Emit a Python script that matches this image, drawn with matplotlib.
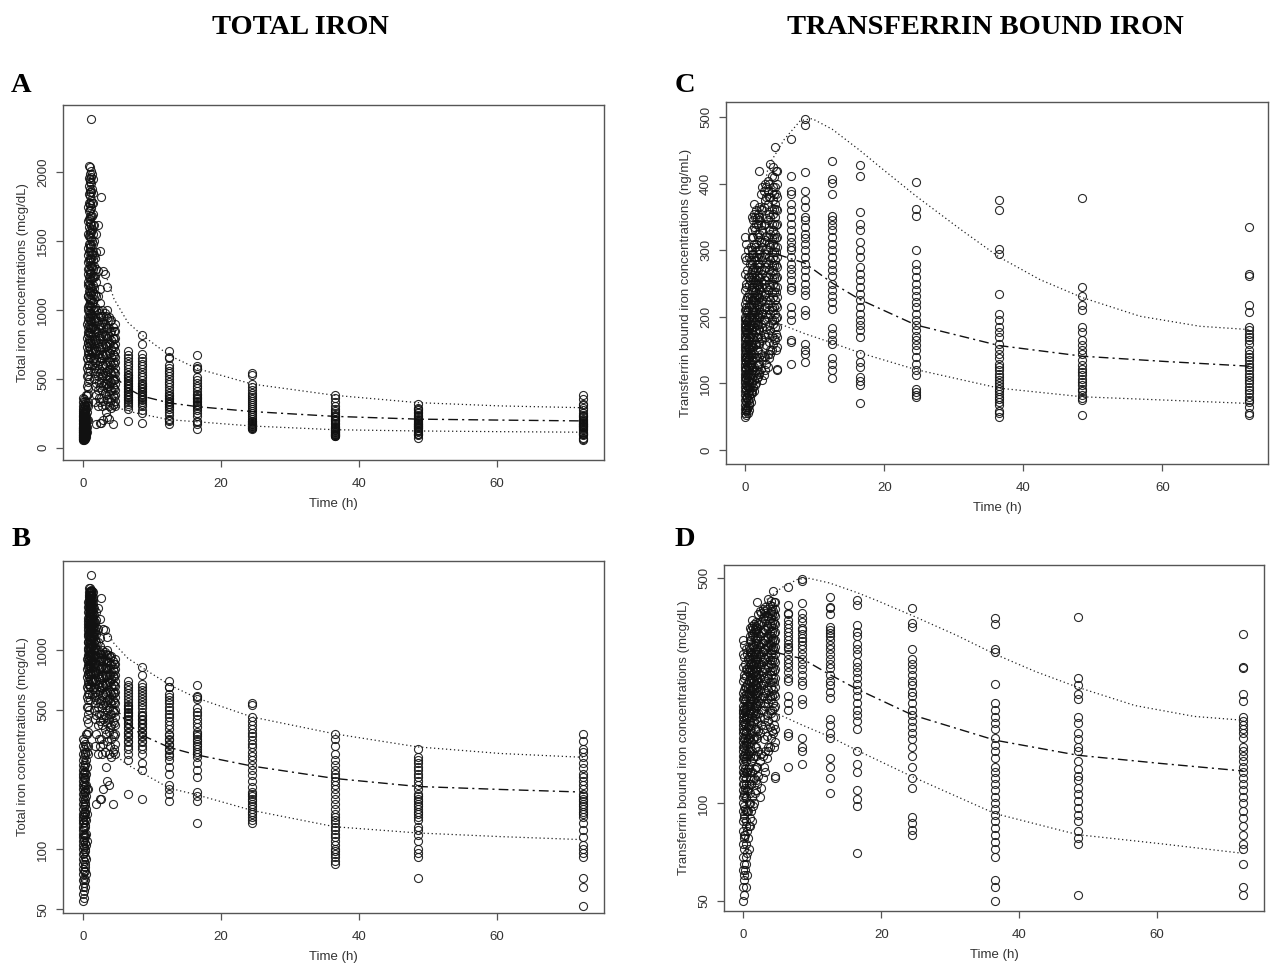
import numpy as np
import matplotlib
matplotlib.use("Agg")
from matplotlib import pyplot as plt
from matplotlib.ticker import NullLocator, FixedLocator, FixedFormatter

# ---- total iron (mcg/dL), observed ----
ti_early_t = [0.0, 0.15, 0.3, 0.45, 0.6, 0.75, 0.9, 1.05, 1.2, 1.4, 1.6, 1.85,
              2.1, 2.4, 2.6, 2.9, 3.2, 3.5, 3.8, 4.1, 4.4, 4.6]
ti_early_v = [
    [55, 60, 65, 70, 75, 80, 85, 90, 95, 100, 105, 110, 115, 120, 125, 130, 135, 140, 145, 150,
     160, 170, 180, 190, 200, 210, 220, 230, 240, 250, 265, 280, 300, 330, 360],
    [57, 62, 68, 72, 78, 88, 96, 103, 112, 118, 128, 138, 148, 155, 165, 175, 185, 195, 205, 215,
     228, 245, 260, 290, 320, 350],
    [70, 78, 85, 92, 100, 108, 118, 130, 142, 155, 168, 180, 195, 210, 225, 245, 270, 300, 340],
    [75, 90, 105, 120, 140, 160, 185, 210, 240, 280, 330, 380],
    [110, 150, 200, 260, 310, 380, 450, 520, 580, 650, 730, 800, 900],
    [300, 390, 480, 560, 640, 700, 760, 820, 880, 950, 1020, 1100, 1180, 1260, 1350, 1450, 1550,
     1650, 1750],
    [500, 600, 680, 740, 790, 840, 890, 940, 990, 1040, 1090, 1140, 1190, 1240, 1300, 1360, 1420,
     1480, 1540, 1600, 1660, 1720, 1780, 1840, 1900, 1960, 2050],
    [650, 720, 780, 830, 880, 930, 980, 1030, 1080, 1130, 1180, 1230, 1280, 1330, 1380, 1430,
     1480, 1530, 1580, 1630, 1680, 1730, 1780, 1830, 1880, 1930, 1990, 2040],
    [700, 760, 820, 870, 920, 970, 1020, 1070, 1120, 1170, 1220, 1270, 1320, 1370, 1420, 1470,
     1520, 1570, 1620, 1680, 1740, 1800, 1860, 1920, 1970, 2010, 2390],
    [640, 700, 760, 820, 880, 940, 1000, 1060, 1120, 1180, 1240, 1300, 1360, 1420, 1480, 1550,
     1620, 1700, 1780, 1850, 1950],
    [500, 580, 650, 720, 790, 860, 930, 1000, 1080, 1160, 1240, 1320, 1400, 1500, 1620],
    [170, 380, 470, 560, 640, 710, 780, 850, 920, 1000, 1100, 1200, 1300, 1420, 1550],
    [300, 420, 520, 600, 680, 760, 840, 920, 1000, 1100, 1280, 1620],
    [180, 330, 440, 540, 630, 720, 800, 880, 960, 1050, 1150, 1430],
    [180, 360, 470, 560, 650, 730, 810, 890, 960, 1820],
    [200, 340, 450, 530, 600, 670, 740, 810, 880, 960, 1280],
    [310, 400, 470, 540, 610, 680, 750, 820, 900, 980, 1260],
    [220, 350, 430, 500, 560, 620, 680, 740, 800, 870, 940, 1000, 1170],
    [210, 300, 390, 450, 510, 570, 630, 690, 750, 810, 870, 950],
    [290, 360, 420, 480, 540, 600, 660, 720, 780, 850, 930],
    [170, 310, 380, 440, 500, 560, 620, 680, 740, 800, 880],
    [300, 340, 380, 420, 460, 500, 540, 580, 620, 660, 700, 750, 800, 850, 900],
]
ti_mid_early_t = [0.35, 0.7, 1.0, 1.3, 1.75, 2.25, 2.75, 3.35, 3.95, 4.5]
ti_mid_early_v = [
    [65, 82, 98, 115, 132, 150, 172, 198, 230, 265, 310],
    [200, 330, 430, 520, 600, 680, 760, 840, 920, 1000, 1100, 1200, 1300, 1400],
    [560, 660, 760, 860, 960, 1060, 1160, 1260, 1360, 1460, 1560, 1660, 1760, 1860, 1950],
    [600, 690, 780, 870, 960, 1050, 1140, 1230, 1320, 1410, 1500, 1590, 1680, 1780, 1880, 1990],
    [330, 450, 540, 620, 700, 780, 860, 940, 1020, 1120, 1250, 1380],
    [360, 480, 570, 650, 730, 810, 890, 980],
    [300, 420, 510, 590, 670, 750, 830, 910, 1000],
    [260, 380, 460, 530, 600, 670, 740, 810, 880, 960],
    [330, 410, 480, 550, 620, 690, 760, 840, 920],
    [320, 370, 430, 490, 550, 610, 670, 730, 790, 850],
]
ti_late_t = [6.5, 8.5, 12.5, 16.5, 24.5, 36.5, 48.5, 72.5]
ti_late_v = [
    [190, 280, 300, 320, 330, 345, 350, 365, 370, 385, 390, 405, 410, 425, 430, 445, 450, 465,
     470, 485, 490, 505, 510, 525, 530, 550, 570, 590, 610, 630, 650, 670, 700],
    [180, 250, 270, 300, 320, 330, 345, 350, 365, 370, 385, 390, 405, 410, 425, 430, 445, 450,
     465, 470, 490, 510, 530, 550, 570, 590, 610, 630, 650, 680, 750, 820],
    [175, 190, 200, 210, 240, 260, 280, 295, 300, 315, 320, 335, 340, 355, 360, 375, 380, 400,
     420, 440, 460, 480, 500, 520, 540, 560, 580, 600, 650, 655, 700],
    [135, 175, 185, 195, 230, 250, 270, 290, 300, 310, 320, 330, 340, 350, 360, 370, 380, 390,
     410, 430, 450, 470, 490, 510, 570, 580, 590, 670],
    [135, 140, 145, 150, 155, 160, 165, 170, 175, 180, 185, 190, 195, 205, 220, 235, 250, 265,
     280, 295, 310, 325, 340, 355, 370, 385, 400, 420, 440, 460, 530, 540],
    [85, 88, 92, 95, 98, 100, 105, 110, 115, 120, 125, 130, 135, 140, 145, 150, 160, 170, 180,
     190, 200, 210, 220, 230, 240, 250, 265, 280, 300, 330, 360, 380],
    [72, 92, 96, 100, 110, 118, 125, 130, 140, 145, 150, 155, 160, 165, 170, 175, 180, 185, 190,
     200, 210, 220, 230, 240, 250, 260, 270, 280, 290, 320],
    [52, 65, 72, 92, 96, 100, 105, 115, 125, 135, 145, 150, 155, 160, 165, 170, 175, 180, 185,
     190, 200, 210, 220, 230, 240, 255, 270, 290, 310, 320, 350, 380],
]
# predicted percentiles
ti_hi_t = [3.5, 4.5, 6.5, 8.5, 12.5, 16.5, 24.5, 36.5, 48.5, 60.5, 72.5]
ti_hi = [1225, 1080, 910, 820, 670, 575, 462, 380, 327, 303, 290]
ti_mid_t = [4.5, 6.5, 8.5, 12.5, 16.5, 24.5, 36.5, 48.5, 60.5, 72.5]
ti_med = [520, 430, 375, 325, 298, 262, 227, 207, 200, 194]
ti_lo = [300, 265, 243, 203, 188, 157, 130, 121, 116, 112]

# ---- transferrin bound iron, observed ----
tb_early_t = [0.0, 0.15, 0.35, 0.55, 0.8, 1.0, 1.25, 1.5, 1.8, 2.0, 2.4, 2.8, 3.2, 3.6, 4.0,
              4.3, 4.6]
tb_early_v = [
    [50, 55, 62, 68, 75, 82, 88, 95, 100, 105, 110, 115, 120, 125, 130, 135, 140, 145, 150, 155,
     160, 165, 170, 175, 180, 185, 190, 195, 200, 210, 220, 240, 265, 290, 320],
    [52, 58, 65, 72, 80, 90, 98, 106, 115, 124, 132, 140, 148, 158, 168, 178, 188, 198, 210, 225,
     250, 285, 310],
    [55, 65, 75, 85, 95, 105, 115, 125, 135, 145, 155, 165, 175, 185, 195, 210, 230, 260, 300],
    [60, 70, 82, 95, 110, 125, 140, 155, 170, 185, 200, 215, 235, 260, 290],
    [72, 85, 100, 115, 130, 145, 160, 175, 190, 205, 220, 240, 265, 285, 305],
    [85, 100, 120, 140, 160, 180, 200, 215, 230, 245, 260, 280, 300, 330, 350],
    [88, 105, 125, 145, 165, 185, 200, 215, 230, 245, 260, 275, 290, 310, 335, 355, 370],
    [100, 120, 140, 160, 180, 195, 210, 225, 240, 255, 270, 290, 310, 340, 360],
    [110, 130, 150, 170, 190, 205, 220, 235, 250, 270, 290, 320, 340, 355],
    [115, 130, 160, 180, 200, 215, 230, 245, 260, 280, 300, 325, 350, 420],
    [105, 135, 165, 185, 205, 225, 245, 265, 285, 305, 330, 360, 395],
    [120, 140, 170, 195, 215, 235, 255, 275, 295, 315, 340, 375, 400],
    [125, 145, 175, 200, 220, 240, 260, 280, 300, 320, 345, 370, 390, 405],
    [145, 150, 180, 205, 225, 245, 265, 285, 305, 325, 350, 380, 430],
    [160, 190, 210, 230, 250, 270, 290, 310, 330, 355, 375, 395, 425],
    [165, 185, 205, 225, 245, 265, 285, 305, 325, 350, 370, 395, 455],
    [120, 122, 155, 170, 185, 200, 215, 230, 245, 260, 275, 290, 305, 320, 340, 360, 380, 400,
     420],
]
tb_mid_early_t = [0.08, 0.25, 0.45, 0.68, 0.9, 1.12, 1.38, 1.65, 1.9, 2.2, 2.6, 3.0, 3.4, 3.8,
                  4.15, 4.45]
tb_mid_early_v = [
    [60, 78, 92, 108, 122, 138, 152, 168, 182, 196, 215, 245],
    [62, 80, 96, 112, 128, 142, 160, 176, 192, 208, 230, 270],
    [68, 88, 104, 120, 138, 152, 168, 182, 198, 218, 248],
    [78, 95, 112, 128, 142, 158, 172, 188, 202, 228, 255, 280],
    [90, 108, 125, 150, 170, 190, 208, 225, 250, 270, 295, 320],
    [95, 115, 135, 155, 175, 195, 210, 225, 240, 255, 272, 295, 320, 345],
    [98, 118, 138, 158, 178, 192, 208, 222, 238, 252, 268, 285, 305, 330, 350],
    [108, 128, 150, 170, 188, 202, 218, 232, 248, 262, 280, 300, 325, 348],
    [118, 140, 162, 182, 198, 212, 228, 242, 258, 275, 295, 315, 345, 365],
    [122, 145, 168, 190, 208, 222, 238, 252, 270, 290, 312, 338, 362, 385],
    [112, 142, 175, 195, 212, 232, 250, 270, 290, 312, 338, 365, 390],
    [130, 158, 182, 205, 225, 245, 262, 282, 302, 322, 348, 380, 395],
    [138, 162, 188, 210, 230, 250, 270, 290, 310, 330, 355, 380, 400],
    [150, 172, 195, 215, 238, 258, 278, 298, 318, 340, 362, 388, 412],
    [168, 195, 215, 238, 258, 278, 298, 318, 340, 362, 385, 410],
    [150, 175, 198, 218, 238, 258, 278, 298, 318, 338, 362, 385, 420],
]
tb_late_t = [6.5, 8.5, 12.5, 16.5, 24.5, 36.5, 48.5, 72.5]
tb_late_v = [
    [130, 162, 165, 195, 205, 215, 240, 245, 255, 265, 272, 280, 290, 300, 305, 312, 320, 330,
     340, 350, 360, 370, 385, 390, 412, 468],
    [132, 145, 150, 160, 203, 210, 233, 240, 250, 260, 270, 280, 290, 300, 310, 318, 325, 335,
     345, 350, 365, 375, 390, 418, 488, 497],
    [108, 120, 130, 138, 160, 165, 175, 183, 212, 222, 232, 240, 250, 262, 270, 280, 290, 300,
     310, 320, 330, 338, 345, 352, 385, 402, 407, 435],
    [70, 98, 103, 110, 125, 132, 145, 170, 180, 188, 195, 205, 215, 225, 235, 245, 255, 265, 275,
     290, 300, 312, 330, 340, 358, 412, 428],
    [80, 83, 87, 91, 112, 120, 130, 140, 150, 158, 165, 172, 180, 188, 195, 205, 215, 222, 232,
     240, 250, 260, 270, 280, 300, 352, 362, 403],
    [50, 55, 58, 68, 72, 76, 80, 84, 88, 92, 96, 100, 105, 110, 115, 120, 125, 130, 138, 145, 152,
     160, 170, 178, 185, 195, 205, 235, 295, 302, 360, 375],
    [52, 75, 78, 82, 88, 92, 97, 102, 107, 112, 118, 122, 128, 135, 145, 150, 158, 165, 178, 185,
     210, 218, 232, 245, 378],
    [52, 55, 65, 72, 75, 80, 85, 90, 95, 100, 105, 110, 115, 120, 125, 130, 135, 140, 145, 150,
     160, 165, 170, 175, 180, 185, 208, 218, 262, 264, 335],
]
tb_hi_t = [2.2, 3.3, 5.6, 7.9, 9.6, 12.5, 16.5, 19.4, 24.5, 30.9, 36.5, 42.4, 48.5, 56.8, 65.4,
           72.5]
tb_hi = [365, 427, 467, 495, 498, 482, 450, 425, 382, 332, 290, 256, 229, 201, 186, 181]
tb_mid_t = [4.6, 8.5, 12.5, 16.5, 24.5, 36.5, 48.5, 60.5, 72.5]
tb_med = [294, 281, 251, 226, 188, 157, 141, 133, 126]
tb_lo = [191, 175, 161, 146, 121, 93, 80, 75, 70]

W, H = 1270, 967
fig = plt.figure(figsize=(W / 100, H / 100), dpi=100)
plt.rcParams['font.family'] = ['Liberation Sans', 'DejaVu Sans']
gray = '#333333'


def box(l, r, t, b):
    return [l / W, 1 - b / H, (r - l) / W, (b - t) / H]


def panel(rect, groups, hi_t, hi, mid_t, med, lo, ylab, log, yticks, ylim, xlim):
    ax = fig.add_axes(rect)
    xs, ys = [], []
    for times, values in groups:
        for t, vals in zip(times, values):
            xs += [t] * len(vals)
            ys += vals
    ax.plot(xs, ys, 'o', mfc='none', mec='#111111', ms=5.8, mew=0.8, alpha=0.9)
    ax.plot(hi_t, hi, color='#222222', lw=0.9, ls=(0, (1, 2.2)))
    ax.plot(mid_t, lo, color='#222222', lw=0.9, ls=(0, (1, 2.2)))
    ax.plot(mid_t, med, color='#111111', lw=1.0, ls=(0, (7, 3, 1.5, 3)))
    if log:
        ax.set_yscale('log')
        ax.yaxis.set_minor_locator(NullLocator())
    ax.yaxis.set_major_locator(FixedLocator(yticks))
    ax.yaxis.set_major_formatter(FixedFormatter([str(v) for v in yticks]))
    ax.set_xticks([0, 20, 40, 60])
    ax.set_xlim(*xlim)
    ax.set_ylim(*ylim)
    for s in ax.spines.values():
        s.set_color('#555555')
        s.set_linewidth(1.0)
    ax.tick_params(colors='#555555', labelcolor=gray, labelsize=9.5, length=5, width=0.9)
    ax.tick_params(axis='x', pad=8)
    ax.tick_params(axis='y', labelrotation=90, pad=5)
    for lab in ax.get_yticklabels():
        lab.set_va('center')
    ax.set_xlabel('Time (h)', fontsize=9.5, color=gray, labelpad=6)
    ax.set_ylabel(ylab, fontsize=9.5, color=gray, labelpad=6)
    return ax


ti_groups = [(ti_early_t, ti_early_v), (ti_mid_early_t, ti_mid_early_v), (ti_late_t, ti_late_v)]
tb_groups = [(tb_early_t, tb_early_v), (tb_mid_early_t, tb_mid_early_v), (tb_late_t, tb_late_v)]

panel(box(63, 604, 105, 460), ti_groups, ti_hi_t, ti_hi, ti_mid_t, ti_med, ti_lo,
      'Total iron concentrations (mcg/dL)',
      False, [0, 500, 1000, 1500, 2000], (-90, 2490), (-2.9, 75.5))
panel(box(63, 604, 561, 913), ti_groups, ti_hi_t, ti_hi, ti_mid_t, ti_med, ti_lo,
      'Total iron concentrations (mcg/dL)',
      True, [50, 100, 500, 1000], (48, 2800), (-2.9, 75.5))
panel(box(726, 1268, 102, 464), tb_groups, tb_hi_t, tb_hi, tb_mid_t, tb_med, tb_lo,
      'Transferrin bound iron concentrations (ng/mL)',
      False, [0, 100, 200, 300, 400, 500], (-21, 523), (-2.8, 75.2))
panel(box(724, 1264, 565, 911), tb_groups, tb_hi_t, tb_hi, tb_mid_t, tb_med, tb_lo,
      'Transferrin bound iron concentrations (mcg/dL)',
      True, [50, 100, 500], (46.4, 548), (-2.8, 75.5))

serif = ['Liberation Serif', 'DejaVu Serif']
fig.text(300 / W, 1 - 27 / H, 'TOTAL IRON', ha='center', va='center', family=serif,
         fontweight='bold', fontsize=20.5)
fig.text(985 / W, 1 - 27 / H, 'TRANSFERRIN BOUND IRON', ha='center', va='center', family=serif,
         fontweight='bold', fontsize=20.5)
for lab, x, y in [('A', 21, 85), ('B', 21, 540), ('C', 685, 85), ('D', 685, 540)]:
    fig.text(x / W, 1 - y / H, lab, ha='center', va='center', family=serif,
             fontweight='bold', fontsize=20.5)

fig.savefig('out.png', dpi=100)
